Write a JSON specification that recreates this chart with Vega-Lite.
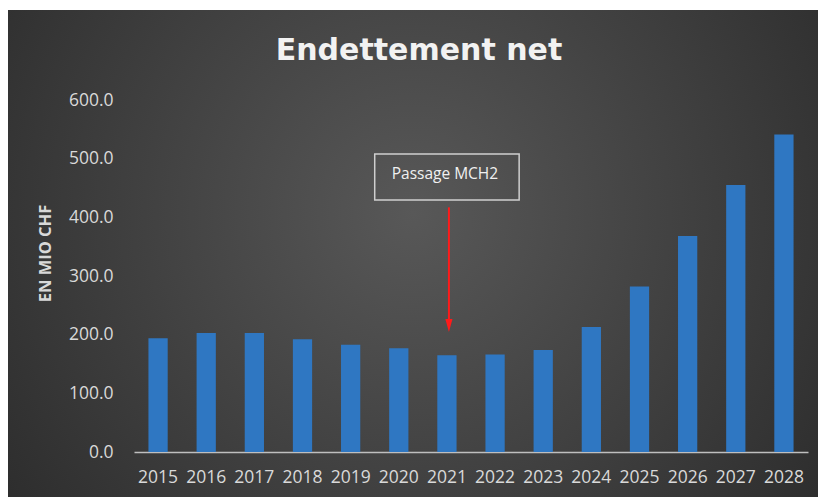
{
  "$schema": "https://vega.github.io/schema/vega-lite/v6.json",
  "width": 810,
  "height": 487,
  "autosize": {"type": "none"},
  "padding": {"left": 8, "top": 10, "right": 0, "bottom": 0},
  "background": "#ffffff",
  "view": {
    "stroke": null,
    "fill": {
      "gradient": "radial",
      "x1": 0.5, "y1": 0.45, "r1": 0,
      "x2": 0.5, "y2": 0.45, "r2": 0.72,
      "stops": [
        {"offset": 0, "color": "#585858"},
        {"offset": 1, "color": "#262626"}
      ]
    }
  },
  "title": {
    "text": "Endettement net",
    "font": "DejaVu Sans",
    "fontSize": 30,
    "fontWeight": "bold",
    "color": "#f2f2f2",
    "anchor": "middle",
    "frame": "group",
    "baseline": "alphabetic",
    "offset": 0,
    "dx": 6,
    "dy": 80
  },
  "datasets": {
    "debt": [
      {"year": "2015", "value": 194},
      {"year": "2016", "value": 203},
      {"year": "2017", "value": 203},
      {"year": "2018", "value": 192},
      {"year": "2019", "value": 183},
      {"year": "2020", "value": 177},
      {"year": "2021", "value": 165},
      {"year": "2022", "value": 166},
      {"year": "2023", "value": 174},
      {"year": "2024", "value": 213},
      {"year": "2025", "value": 282},
      {"year": "2026", "value": 368},
      {"year": "2027", "value": 455},
      {"year": "2028", "value": 541}
    ],
    "annot": [
      {"year": "2021", "label": "Passage MCH2", "boxLow": 429.5, "boxHigh": 508, "textY": 474.7, "arrowTop": 417, "arrowBottom": 222, "headY": 215.6}
    ]
  },
  "layer": [
    {
      "data": {"name": "debt"},
      "mark": {"type": "bar", "color": "#2f77c2", "width": {"band": 0.4}},
      "encoding": {
        "x": {
          "field": "year",
          "type": "ordinal",
          "scale": {"range": [126, 800], "paddingInner": 0, "paddingOuter": 0},
          "axis": {
            "title": null,
            "labelAngle": 0,
            "domain": true,
            "domainColor": "#bfbfbf",
            "domainWidth": 1.5,
            "ticks": false,
            "tickSize": 0,
            "grid": false,
            "labelPadding": 25.5,
            "labelBaseline": "middle",
            "offset": -45,
            "labelFont": "Open Sans",
            "labelFontSize": 17.5,
            "labelColor": "#d9d9d9"
          }
        },
        "y": {
          "field": "value",
          "type": "quantitative",
          "scale": {"domain": [0, 600], "range": [442, 90], "nice": false, "zero": true},
          "axis": {
            "values": [0, 100, 200, 300, 400, 500, 600],
            "format": ".1f",
            "domain": false,
            "ticks": false,
            "tickSize": 0,
            "grid": false,
            "labelPadding": 21,
            "offset": -126,
            "labelFont": "Open Sans",
            "labelFontSize": 17.5,
            "labelColor": "#d9d9d9",
            "title": "EN MIO CHF",
            "titleFont": "Open Sans",
            "titleFontSize": 16.5,
            "titleFontWeight": "bold",
            "titleColor": "#d9d9d9",
            "titleX": -88.5,
            "titleY": 243,
            "titleAngle": 270,
            "titleAlign": "center",
            "titleBaseline": "middle"
          }
        }
      }
    },
    {
      "data": {"name": "annot"},
      "mark": {"type": "bar", "fill": "transparent", "stroke": "#cfcfcf", "strokeWidth": 1.5, "width": {"band": 3}},
      "encoding": {
        "x": {"field": "year", "type": "ordinal"},
        "y": {"field": "boxLow", "type": "quantitative"},
        "y2": {"field": "boxHigh"}
      }
    },
    {
      "data": {"name": "annot"},
      "mark": {"type": "text", "font": "Open Sans", "fontSize": 15.5, "color": "#f0f0f0", "baseline": "middle", "align": "center", "dx": -2},
      "encoding": {
        "x": {"field": "year", "type": "ordinal"},
        "y": {"field": "textY", "type": "quantitative"},
        "text": {"field": "label"}
      }
    },
    {
      "data": {"name": "annot"},
      "mark": {"type": "rule", "color": "#ff1a1a", "strokeWidth": 2, "xOffset": 2},
      "encoding": {
        "x": {"field": "year", "type": "ordinal"},
        "y": {"field": "arrowTop", "type": "quantitative"},
        "y2": {"field": "arrowBottom"}
      }
    },
    {
      "data": {"name": "annot"},
      "mark": {"type": "point", "shape": "M-0.55,-1L0.55,-1L0,1Z", "filled": true, "color": "#ff1a1a", "opacity": 1, "size": 169, "xOffset": 2},
      "encoding": {
        "x": {"field": "year", "type": "ordinal"},
        "y": {"field": "headY", "type": "quantitative"}
      }
    }
  ]
}
